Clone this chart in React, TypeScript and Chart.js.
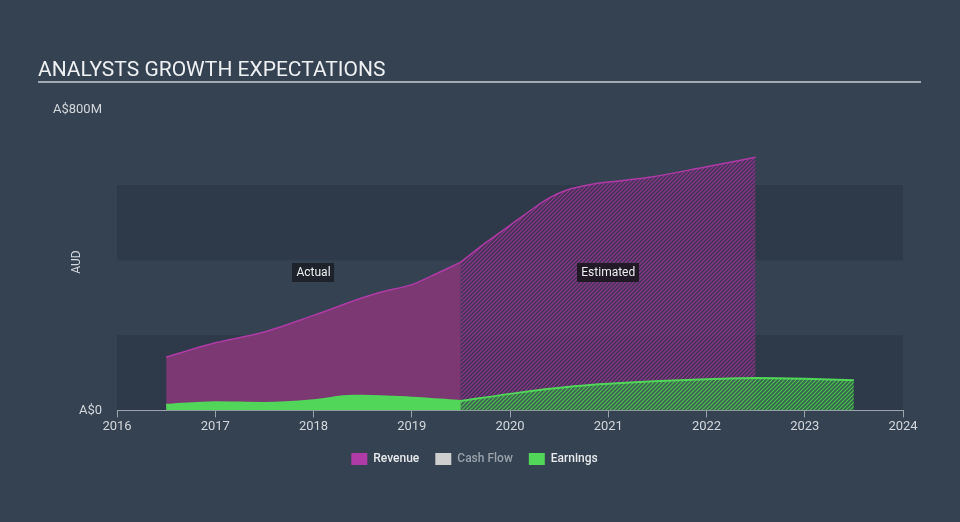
import React, { useEffect, useRef } from "react";
import { Chart, registerables } from "chart.js";

Chart.register(...registerables);

// ---- Data (years as fractional x, values in A$ millions) ----
const revenueActualX = [2016.5, 2017.0, 2017.5, 2018.0, 2018.5, 2018.7, 2019.0, 2019.25, 2019.5];
const revenueActualY = [142, 180, 209, 253, 300, 316, 335, 364, 395];
const revenueEstX = [2019.5, 2019.75, 2020.0, 2020.2, 2020.4, 2020.58, 2020.85, 2021.0, 2021.4, 2022.0, 2022.5];
const revenueEstY = [395, 446, 493, 531, 566, 587, 603, 608, 620, 649, 674];
const earningsActualX = [2016.5, 2017.0, 2017.5, 2018.0, 2018.4, 2018.5, 2019.0, 2019.5];
const earningsActualY = [15, 22, 20, 27, 39, 39, 34, 25];
const earningsEstX = [2019.5, 2020.0, 2020.65, 2021.0, 2022.0, 2022.5, 2023.0, 2023.5];
const earningsEstY = [25, 44, 64, 71, 83, 86, 84, 80];
const xTickYears = [2016, 2017, 2018, 2019, 2020, 2021, 2022, 2023, 2024];
const yLabels = ["A$0", "A$800M"];
const legendNames = ["Revenue", "Cash Flow", "Earnings"];

const BG = "#344252";
const BAND = "#2e3a49";
const REV_LINE = "#b03aa6";
const REV_FILL = "#7b3873";
const EARN = "#52d65a";
const FONT = "Roboto, 'Noto Sans', sans-serif";

const pts = (xs: number[], ys: number[]) => xs.map((x, i) => ({ x, y: ys[i] }));

function hatch(bg: string, line: string): CanvasPattern | string {
  const s = 4;
  const c = document.createElement("canvas");
  c.width = s;
  c.height = s;
  const g = c.getContext("2d");
  if (!g) return bg;
  g.fillStyle = bg;
  g.fillRect(0, 0, s, s);
  g.strokeStyle = line;
  g.lineWidth = 1.1;
  g.beginPath();
  g.moveTo(0, s);
  g.lineTo(s, 0);
  g.moveTo(-1, 1);
  g.lineTo(1, -1);
  g.moveTo(s - 1, s + 1);
  g.lineTo(s + 1, s - 1);
  g.stroke();
  const p = g.createPattern(c, "repeat");
  return p || bg;
}

const decorPlugin = {
  id: "decor",
  beforeDraw(chart: any) {
    const { ctx, chartArea, scales } = chart;
    const y = scales.y;
    ctx.save();
    ctx.fillStyle = BG;
    ctx.fillRect(0, 0, chart.width, chart.height);
    ctx.fillStyle = BAND;
    [[0, 200], [400, 600]].forEach(([a, b]) => {
      const top = y.getPixelForValue(b);
      const bot = y.getPixelForValue(a);
      ctx.fillRect(chartArea.left, top, chartArea.right - chartArea.left, bot - top);
    });
    // title
    ctx.fillStyle = "#eef0f2";
    ctx.font = `21px ${FONT}`;
    ctx.textBaseline = "alphabetic";
    ctx.textAlign = "left";
    ctx.fillText("ANALYSTS GROWTH EXPECTATIONS", 38, 76);
    ctx.fillStyle = "#a3a9b0";
    ctx.fillRect(38, 81, 883, 2);
    // y labels
    ctx.fillStyle = "#d4d7db";
    ctx.font = `13px ${FONT}`;
    ctx.textAlign = "right";
    ctx.textBaseline = "middle";
    ctx.fillText(yLabels[1], 102, y.getPixelForValue(800));
    ctx.fillText(yLabels[0], 102, y.getPixelForValue(0));
    // AUD
    ctx.save();
    ctx.translate(77, 262);
    ctx.rotate(-Math.PI / 2);
    ctx.textAlign = "center";
    ctx.font = `12px ${FONT}`;
    ctx.fillText("AUD", 0, 0);
    ctx.restore();
    ctx.restore();
  },
  afterDatasetsDraw(chart: any) {
    const { ctx, scales } = chart;
    const drawTag = (text: string, xv: number, yv: number, bg: string) => {
      const x = scales.x.getPixelForValue(xv);
      const yy = scales.y.getPixelForValue(yv);
      ctx.save();
      ctx.font = `12px ${FONT}`;
      const w = ctx.measureText(text).width + 8;
      const h = 19;
      ctx.fillStyle = bg;
      ctx.fillRect(Math.round(x - w / 2), Math.round(yy - h / 2), w, h);
      ctx.fillStyle = "#eceef0";
      ctx.textAlign = "center";
      ctx.textBaseline = "middle";
      ctx.fillText(text, x, yy + 0.5);
      ctx.restore();
    };
    drawTag("Actual", 2018.0, 368, "#1d222b");
    drawTag("Estimated", 2021.0, 368, "#211a26");
  },
};

export default function App() {
  const ref = useRef<HTMLCanvasElement | null>(null);

  useEffect(() => {
    if (!ref.current) return;
    const revHatch = hatch("rgba(78,48,92,0.75)", "rgba(150,55,145,0.95)");
    const earnHatch = hatch("rgba(58,110,80,0.8)", "#4cc64f");
    const chart = new Chart(ref.current, {
      type: "line",
      data: {
        datasets: [
          {
            label: "Earnings",
            data: pts(earningsActualX, earningsActualY),
            borderColor: EARN,
            backgroundColor: EARN,
            borderWidth: 2,
            fill: "origin",
            pointRadius: 0,
            cubicInterpolationMode: "monotone",
          },
          {
            label: "Earnings est",
            data: pts(earningsEstX, earningsEstY),
            borderColor: EARN,
            backgroundColor: earnHatch as any,
            borderWidth: 2,
            fill: "origin",
            pointRadius: 0,
            cubicInterpolationMode: "monotone",
          },
          {
            label: "Revenue",
            data: pts(revenueActualX, revenueActualY),
            borderColor: REV_LINE,
            backgroundColor: REV_FILL,
            borderWidth: 1.5,
            fill: "origin",
            pointRadius: 0,
            cubicInterpolationMode: "monotone",
          },
          {
            label: "Revenue est",
            data: pts(revenueEstX, revenueEstY),
            borderColor: REV_LINE,
            backgroundColor: revHatch as any,
            borderWidth: 1.5,
            fill: "origin",
            pointRadius: 0,
            cubicInterpolationMode: "monotone",
          },
        ],
      },
      options: {
        responsive: false,
        animation: false,
        devicePixelRatio: 1,
        layout: { padding: { left: 46, right: 57, top: 110, bottom: 47 } },
        plugins: {
          tooltip: { enabled: false },
          legend: {
            position: "bottom",
            onClick: () => {},
            labels: {
              boxWidth: 16,
              boxHeight: 12,
              padding: 16,
              font: { family: FONT, size: 12, weight: 500 as any },
              color: "#e8eaec",
              generateLabels: () => [
                { text: legendNames[0], fillStyle: REV_LINE, strokeStyle: REV_LINE, lineWidth: 0, fontColor: "#e8eaec", hidden: false, datasetIndex: 2 } as any,
                { text: legendNames[1], fillStyle: "#cfcfcf", strokeStyle: "#cfcfcf", lineWidth: 0, fontColor: "#9aa2aa", hidden: false, datasetIndex: 4 } as any,
                { text: legendNames[2], fillStyle: EARN, strokeStyle: EARN, lineWidth: 0, fontColor: "#e8eaec", hidden: false, datasetIndex: 0 } as any,
              ],
            },
          },
        },
        scales: {
          x: {
            type: "linear",
            min: xTickYears[0],
            max: xTickYears[xTickYears.length - 1],
            afterBuildTicks: (axis: any) => {
              axis.ticks = xTickYears.map((v) => ({ value: v }));
            },
            ticks: {
              color: "#d4d7db",
              font: { family: FONT, size: 13 },
              padding: 2,
              maxRotation: 0,
              callback: (v: any) => String(v),
            },
            grid: { drawOnChartArea: false, drawTicks: true, tickLength: 7, color: "#9ba3ab" },
            border: { color: "#9ba3ab", width: 1 },
          },
          y: {
            display: true,
            min: 0,
            max: 800,
            ticks: { display: false },
            grid: { display: false },
            border: { display: false },
            afterFit: (axis: any) => {
              axis.width = 71;
            },
          },
        },
      },
      plugins: [decorPlugin],
    });
    return () => chart.destroy();
  }, []);

  return (
    <div style={{ position: "fixed", left: 0, top: 0, width: 960, height: 522, background: BG }}>
      <canvas ref={ref} width={960} height={522} style={{ display: "block", width: 960, height: 522 }} />
    </div>
  );
}
